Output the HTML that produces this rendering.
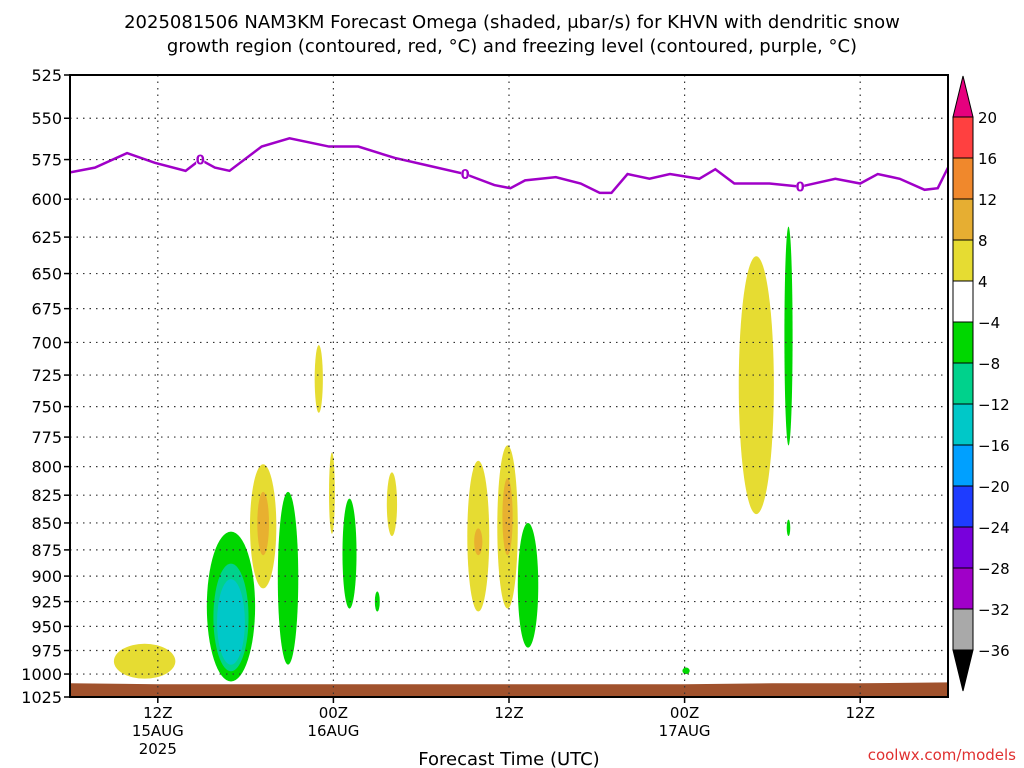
<!DOCTYPE html>
<html><head><meta charset="utf-8"><style>
body{margin:0;background:#fff;}
svg{display:block;font-family:"DejaVu Sans","Liberation Sans",sans-serif;}
</style></head><body>
<svg id="c" width="1024" height="768" xmlns="http://www.w3.org/2000/svg"></svg>
<script>
const pTicks=[525,550,575,600,625,650,675,700,725,750,775,800,825,850,875,900,925,950,975,1000,1025];
const xTickHours=[6,18,30,42,54];
const xTickLine1=["12Z","00Z","12Z","00Z","12Z"];
const xTickLine2=["15AUG","16AUG","","17AUG",""];
const xTickLine3=["2025","","","",""];
const frzHours=[0,1.7,3.9,5.8,7.9,8.9,9.9,10.9,13.1,15.0,17.7,19.7,22.2,24.6,27.0,29.0,30.1,31.1,33.2,34.9,36.2,37.0,38.1,39.6,41.0,43.0,44.1,45.4,47.8,49.9,52.3,54.0,55.2,56.7,58.4,59.3,60.0];
const frzPres=[583,580,571,577,582,575,580,582,567,562,567,567,574,579,584,591,593,588,586,590,596,596,584,587,584,587,581,590,590,592,587,590,584,587,594,593,580];
const frzLabelHours=[8.9,27.0,49.9];
const frzLabelPres=[575,584,592];
const blobHour=[5.1,11.0,11.0,11.0,13.2,13.2,14.9,17.0,17.9,19.1,21.0,22.0,27.9,27.9,29.9,29.9,31.3,42.1,46.9,49.1,49.1];
const blobHalf=[2.1,1.65,1.2,0.95,0.9,0.4,0.7,0.28,0.2,0.48,0.17,0.35,0.75,0.28,0.7,0.35,0.7,0.25,1.2,0.28,0.12];
const blobTop=[968,858,888,903,798,822,822,702,788,828,915,805,795,855,782,810,850,993,638,618,847];
const blobBot=[1005,1008,997,990,912,880,990,755,860,932,935,862,935,880,932,880,972,1000,842,782,862];
const blobLvl=["y4","g","t","c","y4","o","g","y4","y4","g","g","y4","y4","o","y4","o","g","g","y4","g","g"];
const blobColors={y4:"#e6dc32",o:"#e8b030",g:"#00d700",t:"#00d28c",c:"#00c8c8"};
const cbLabels=["20","16","12","8","4","\u22124","\u22128","\u221212","\u221216","\u221220","\u221224","\u221228","\u221232","\u221236"];
const cbColors=["#ff4040","#f0882c","#e6ae32","#e6dc32","#ffffff","#00d700","#00d28c","#00c8c8","#00a0ff","#1e3cff","#7800dc","#a000c8","#a9a9a9"];
const groundPres=[1010,1011,1011,1011,1011,1011,1011,1011,1010,1010,1009];
const groundHours=[0,6,12,18,24,30,36,42,48,54,60];

const NS="http://www.w3.org/2000/svg";
const svg=document.getElementById('c');
const X0=70,X1=948,Y0=75,Y1=697,H0=0,H1=60;
const xs=h=>X0+(h-H0)/(H1-H0)*(X1-X0);
const ys=p=>Y0+Math.log(p/525)/Math.log(1025/525)*(Y1-Y0);
function el(tag,a,parent){const e=document.createElementNS(NS,tag);for(const k in a)e.setAttribute(k,a[k]);(parent||svg).appendChild(e);return e;}
function txt(x,y,s,a,parent){const e=el('text',Object.assign({x:x,y:y},a),parent);e.textContent=s;return e;}

let t1=txt(512,28,"2025081506 NAM3KM Forecast Omega (shaded, \u03bcbar/s) for KHVN with dendritic snow",{"text-anchor":"middle","font-size":"18"});

let t2=txt(512,52,"growth region (contoured, red, \u00b0C) and freezing level (contoured, purple, \u00b0C)",{"text-anchor":"middle","font-size":"18"});


const plot=el('g',{});

el('defs',{}).innerHTML='<clipPath id="cp"><rect x="70" y="75" width="878" height="622"/></clipPath>';
const inner=el('g',{'clip-path':'url(#cp)'},plot);

blobHour.forEach((h,i)=>{
  const cx=xs(h),rx=xs(h+blobHalf[i])-cx,yt=ys(blobTop[i]),yb=ys(blobBot[i]);
  const e=el('ellipse',{cx:cx,cy:(yt+yb)/2,rx:rx,ry:(yb-yt)/2,fill:blobColors[blobLvl[i]]},inner);
  
  
});
let gd="M"+xs(groundHours[0])+","+Y1;
groundHours.forEach((h,i)=>{gd+=" L"+xs(h)+","+ys(groundPres[i]);});
gd+=" L"+xs(groundHours[groundHours.length-1])+","+Y1+"Z";
const g=el('path',{d:gd,fill:"#a0522d"},inner);



pTicks.forEach((p,i)=>{
  const y=ys(p);
  if(i>0&&i<pTicks.length-1){
    const l=el('line',{x1:X0,x2:X1,y1:y,y2:y,stroke:"#333","stroke-width":1.2,"stroke-dasharray":"1.5 5"},plot);
    
  }
  el('line',{x1:X0-6,x2:X0,y1:y,y2:y,stroke:"#000","stroke-width":1.5},plot);
  const lt=txt(62,y+6,String(p),{"text-anchor":"end","font-size":"16"});
  
});
xTickHours.forEach((h,i)=>{
  const x=xs(h);
  const l=el('line',{x1:x,x2:x,y1:Y0,y2:Y1,stroke:"#333","stroke-width":1.2,"stroke-dasharray":"1.5 5"},plot);
  
  el('line',{x1:x,x2:x,y1:Y1,y2:Y1+6,stroke:"#000","stroke-width":1.5},plot);
  const a=txt(x,718,xTickLine1[i],{"text-anchor":"middle","font-size":"15"});
  
  if(xTickLine2[i]){const b=txt(x,736,xTickLine2[i],{"text-anchor":"middle","font-size":"15"});}
  if(xTickLine3[i]){const c=txt(x,754,xTickLine3[i],{"text-anchor":"middle","font-size":"15"});}
});
let fd="";
frzHours.forEach((h,i)=>{fd+=(i?" L":"M")+xs(h)+","+ys(frzPres[i]);});
const fl=el('path',{d:fd,fill:"none",stroke:"#a000c8","stroke-width":2.5},inner);

frzLabelHours.forEach((h,i)=>{
  const x=xs(h),y=ys(frzLabelPres[i]);
  el('rect',{x:x-4,y:y-6,width:8,height:12,fill:"#fff"},inner);
  const lb=txt(x,y+5,"0",{"text-anchor":"middle","font-size":"13","font-weight":"bold",fill:"#a000c8"},inner);
  
});
const fr=el('rect',{x:X0,y:Y0,width:X1-X0,height:Y1-Y0,fill:"none",stroke:"#000","stroke-width":2},plot);


const cb=el('g',{});

const cbX=953,cbW=20,cbTop=117,cbStep=(650-117)/13;
el('path',{d:`M${cbX},${cbTop} L${cbX+cbW/2},76 L${cbX+cbW},${cbTop}Z`,fill:"#e6007e",stroke:"#000"},cb);
cbColors.forEach((c,i)=>{
  const r=el('rect',{x:cbX,y:cbTop+i*cbStep,width:cbW,height:cbStep,fill:c,stroke:"#000","stroke-width":1},cb);
  
});
el('path',{d:`M${cbX},650 L${cbX+cbW/2},691 L${cbX+cbW},650Z`,fill:"#000",stroke:"#000"},cb);
cbLabels.forEach((s,i)=>{
  const l=txt(978,cbTop+i*cbStep+6,s,{"font-size":"15"},cb);
  
});

const xt=txt(509,765,"Forecast Time (UTC)",{"text-anchor":"middle","font-size":"18"});

const cr=txt(1016,760,"coolwx.com/models",{"text-anchor":"end","font-size":"15",fill:"#e03030"});

</script>
</body></html>
